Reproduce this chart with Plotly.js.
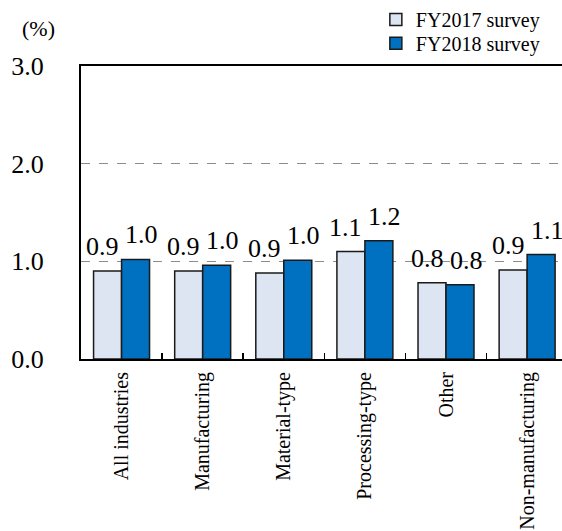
<!DOCTYPE html>
<html>
<head>
<meta charset="utf-8">
<script src="https://cdn.plot.ly/plotly-3.0.1.min.js"></script>
<style>
  html, body { margin: 0; padding: 0; background: #fff; overflow: hidden; }
  #chart { width: 562px; height: 531px; }
</style>
</head>
<body>
<div id="chart"></div>
<script>
// Expected price change by industry, two survey years (%)
const categories = ["All industries", "Manufacturing", "Material-type", "Processing-type", "Other", "Non-manufacturing"];
const seriesNames = ["FY2017 survey", "FY2018 survey"];
const fy2017 = [0.90, 0.90, 0.88, 1.10, 0.78, 0.91];
const fy2018 = [1.02, 0.96, 1.01, 1.21, 0.76, 1.07];
const yTicks = [0, 1, 2, 3];
const yTickLabels = ["0.0", "1.0", "2.0", "3.0"];
const unitLabel = "(%)";

const serif = "Liberation Serif, Times New Roman, serif";
const colors = ["#DCE5F1", "#0070C0"];
const legendIds = ["legend", "legend2"];

const traces = [fy2017, fy2018].map((vals, i) => ({
  type: "bar",
  name: seriesNames[i],
  legend: legendIds[i],
  x: categories,
  y: vals,
  marker: { color: colors[i], line: { color: "#1a1a1a", width: 1.5 } },
  hoverinfo: "x+y"
}));

// Value labels above each bar, formatted from the same values as the bars
const labelShift = [-19, 20];
const annotations = [];
[fy2017, fy2018].forEach((vals, i) => {
  vals.forEach((v, j) => {
    annotations.push({
      x: categories[j], y: v, xref: "x", yref: "y",
      text: v.toFixed(1), showarrow: false,
      xanchor: "center", yanchor: "bottom",
      xshift: labelShift[i], yshift: 8,
      font: { family: serif, size: 26, color: "#000" }
    });
  });
});
annotations.push({
  xref: "paper", yref: "paper", x: -0.088, y: 1.128,
  xanchor: "center", yanchor: "middle",
  text: unitLabel, showarrow: false,
  font: { family: serif, size: 22, color: "#000" }
});

// One legend box per series so the two rows sit close together
const legendBox = (y) => ({
  x: 0.613, y: y, xanchor: "left", yanchor: "middle",
  orientation: "v",
  font: { family: serif, size: 20, color: "#000" },
  bgcolor: "rgba(0,0,0,0)", itemwidth: 30
});

const layout = {
  width: 562, height: 531,
  margin: { l: 81, r: 0, t: 61, b: 172, pad: 0 },
  paper_bgcolor: "#fff", plot_bgcolor: "#fff",
  barmode: "group", bargap: 0.31, bargroupgap: 0,
  showlegend: true,
  legend: legendBox(1.159),
  legend2: legendBox(1.078),
  xaxis: {
    type: "category",
    range: [-0.5, 5.43],
    showline: true, linecolor: "#000", linewidth: 2, mirror: true,
    ticks: "inside", tickson: "boundaries", ticklen: 6, tickwidth: 1.5, tickcolor: "#000",
    tickangle: -90, ticklabelstandoff: 3,
    tickfont: { family: serif, size: 20, color: "#000" },
    showgrid: false, zeroline: false, fixedrange: true
  },
  yaxis: {
    range: [0, 3],
    tickvals: yTicks, ticktext: yTickLabels,
    ticks: "", ticklabelstandoff: 30,
    tickfont: { family: serif, size: 26, color: "#000" },
    showline: true, linecolor: "#000", linewidth: 2,
    showgrid: true, gridcolor: "#8c8c8c", gridwidth: 1.2, griddash: "dash",
    zeroline: false, fixedrange: true
  },
  annotations: annotations
};

Plotly.newPlot("chart", traces, layout, { displayModeBar: false, staticPlot: true });
</script>
</body>
</html>
